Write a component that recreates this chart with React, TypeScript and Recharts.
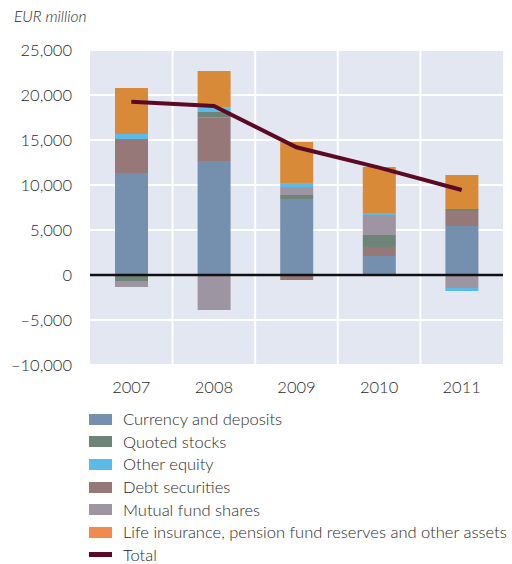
import {
  ComposedChart,
  Bar,
  Line,
  XAxis,
  YAxis,
  CartesianGrid,
  ReferenceLine,
} from "recharts";

const years = ["2007", "2008", "2009", "2010", "2011"];
const currencyDeposits = [11330, 12670, 8440, 2110, 5440];
const quotedStocks = [-670, 590, 440, 1330, 220];
const otherEquity = [560, 520, 370, 220, -330];
const debtSecurities = [3780, 4850, -560, 1000, 1670];
const mutualFundShares = [-670, -3890, 890, 2220, -1440];
const lifeInsurance = [5110, 4040, 4630, 5110, 3780];
const total = [19250, 18780, 14190, 11930, 9440];
const yTicks = [-10000, -5000, 0, 5000, 10000, 15000, 20000, 25000];

const FONT = "Lato, 'Open Sans', sans-serif";
const TEXT = "#2a2a2a";

// stacking order (bottom up) differs from the legend order
const stackSeries = [
  { key: "currency", color: "#7590ae" },
  { key: "debt", color: "#967879" },
  { key: "quoted", color: "#6f8479" },
  { key: "mutual", color: "#9e95a2" },
  { key: "other", color: "#5bbbe8" },
  { key: "life", color: "#d98a38" },
];

const legendItems = [
  { name: "Currency and deposits", color: "#7590ae" },
  { name: "Quoted stocks", color: "#6f8479" },
  { name: "Other equity", color: "#5bbbe8" },
  { name: "Debt securities", color: "#967879" },
  { name: "Mutual fund shares", color: "#9e95a2" },
  { name: "Life insurance, pension fund reserves and other assets", color: "#f28a50" },
  { name: "Total", color: "#5c0a24", line: true },
];

const data = years.map((year, i) => ({
  year,
  currency: currencyDeposits[i],
  quoted: quotedStocks[i],
  other: otherEquity[i],
  debt: debtSecurities[i],
  mutual: mutualFundShares[i],
  life: lifeInsurance[i],
  total: total[i],
}));

function fmtTick(v: number): string {
  const s = Math.abs(v).toLocaleString("en-US");
  return v < 0 ? "\u2013" + s : s;
}

export default function App() {
  return (
    <div style={{ position: "absolute", left: 0, top: 0, width: 512, height: 564, background: "#fff", fontFamily: FONT }}>
      <div style={{ position: "absolute", left: 14, top: 7, fontSize: 15.5, fontStyle: "italic", color: TEXT, fontWeight: 300 }}>
        EUR million
      </div>
      <ComposedChart
        width={512}
        height={400}
        data={data}
        stackOffset="sign"
        margin={{ top: 50, right: 9, left: 0, bottom: 0 }}
      >
        <CartesianGrid
          fill="#e3e7f1"
          stroke="#ffffff"
          strokeWidth={2}
          verticalCoordinatesGenerator={({ offset }: any) => {
            const step = offset.width / years.length;
            return years.slice(1).map((_, i) => offset.left + step * (i + 1));
          }}
        />
        <XAxis
          dataKey="year"
          axisLine={false}
          tickLine={false}
          tickSize={0}
          tickMargin={16}
          height={35}
          tick={{ fill: TEXT, fontSize: 16.5, fontFamily: FONT, fontWeight: 300 }}
        />
        <YAxis
          domain={[-10000, 25000]}
          ticks={yTicks}
          interval={0}
          axisLine={false}
          tickLine={false}
          tickSize={0}
          tickMargin={18}
          width={90}
          tickFormatter={fmtTick}
          tick={{ fill: TEXT, fontSize: 16.5, fontFamily: FONT, fontWeight: 300 }}
        />
        {stackSeries.map((s) => (
          <Bar key={s.key} dataKey={s.key} stackId="a" fill={s.color} barSize={33} isAnimationActive={false} />
        ))}
        <ReferenceLine y={0} stroke="#111" strokeWidth={2.5} />
        <Line
          type="linear"
          dataKey="total"
          stroke="#5c0a24"
          strokeWidth={4}
          dot={false}
          activeDot={false}
          isAnimationActive={false}
        />
      </ComposedChart>
      <div style={{ position: "absolute", left: 89, top: 408 }}>
        {legendItems.map((it) => (
          <div key={it.name} style={{ display: "flex", alignItems: "center", height: 22.6, fontSize: 16.5, color: TEXT, fontWeight: 300, whiteSpace: "nowrap" }}>
            <span
              style={{
                display: "inline-block",
                width: 23,
                height: it.line ? 5 : 11,
                background: it.color,
                marginRight: 11,
              }}
            />
            {it.name}
          </div>
        ))}
      </div>
    </div>
  );
}
